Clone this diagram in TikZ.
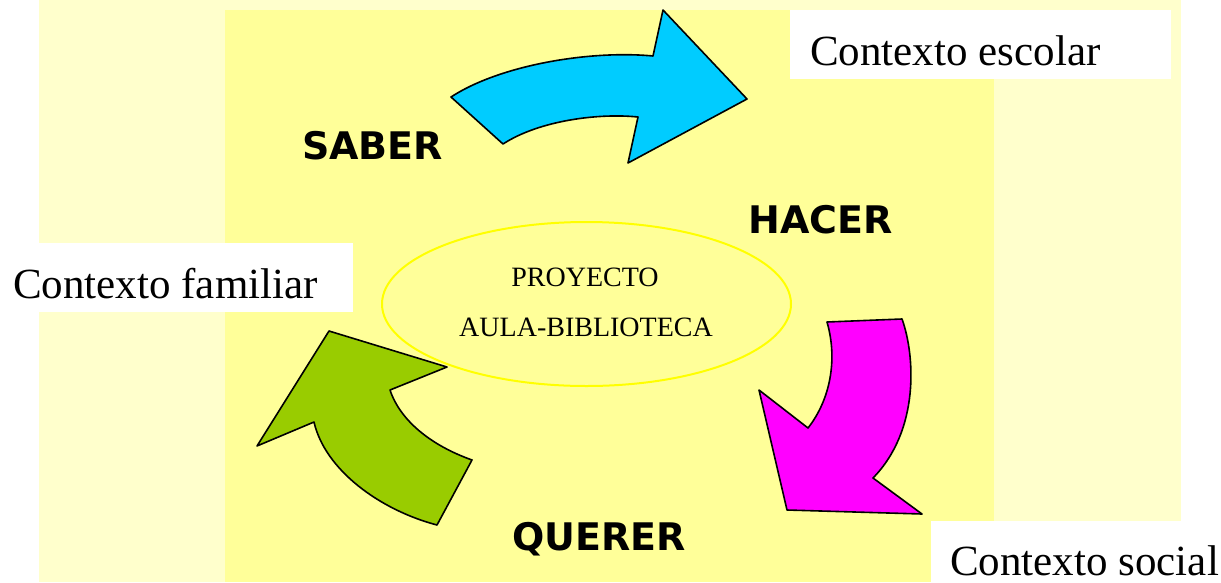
\documentclass[tikz,border=0pt]{standalone}
\usepackage{fontspec}
\setmainfont{Liberation Serif}
\newfontfamily\verbofont{DejaVu Sans}
\usetikzlibrary{shapes.geometric}
\definecolor{amarilloclaro}{HTML}{FFFFCC}
\definecolor{amarillo}{HTML}{FFFF99}
\definecolor{amarillovivo}{HTML}{FFFF00}
\definecolor{celeste}{HTML}{00CCFF}
\definecolor{fucsia}{HTML}{FF00FF}
\definecolor{verdelima}{HTML}{99CC00}
\begin{document}
\begin{tikzpicture}[x=1pt,y=-1pt, line join=round, line cap=round,
	ctx/.style={font=\fontsize{43}{43}\selectfont, inner sep=0pt, anchor=base west},
	verbo/.style={font=\verbofont\bfseries\fontsize{38}{38}\selectfont, inner sep=0pt, anchor=base west},
	titulo/.style={font=\fontsize{28}{28}\selectfont, inner sep=0pt, anchor=base},
	flecha/.style={draw=black, line width=1.6pt}]
	\useasboundingbox (0,0) rectangle (1221,582);
	\fill[amarilloclaro] (39,0) rectangle (1181,582);
	\fill[amarillo] (225,10) rectangle (994,582);
	\fill[white] (0,243) rectangle (353,312);
	\fill[white] (790,10) rectangle (1171,79);
	\fill[white] (931,521) rectangle (1221,582);
	\node[ellipse, draw=amarillovivo, line width=2pt, minimum width=409pt, minimum height=164pt] (proyecto) at (586.5,304) {};
	\node[titulo] (linea1) at (585,286) {PROYECTO};
	\node[titulo] (linea2) at (586,336) {AULA-BIBLIOTECA};
	\draw[flecha, fill=celeste] (451,97) -- (503,144) .. controls (540,120) and (600,113) .. (638,117) -- (628,163) -- (747,99) -- (663,10) -- (653,56) .. controls (590,50) and (500,65) .. (451,97) -- cycle;
	\draw[flecha, fill=fucsia] (827,322) -- (902,319) .. controls (915,355) and (920,430) .. (873,478) -- (922,514) -- (787,510) -- (759,390) -- (808,428) .. controls (830,400) and (838,360) .. (827,322) -- cycle;
	\draw[flecha, fill=verdelima] (437,525) -- (472,460) .. controls (430,445) and (400,420) .. (390,390) -- (447,367) -- (329,331) -- (257,446) -- (314,422) .. controls (325,470) and (380,510) .. (437,525) -- cycle;
	\node[verbo] (saber) at (302,159) {SABER};
	\node[verbo] (hacer) at (748,233) {HACER};
	\node[verbo] (querer) at (512,550) {QUERER};
	\node[ctx] (familiar) at (13,298) {Contexto familiar};
	\node[ctx] (escolar) at (810,65) {Contexto escolar};
	\node[ctx] (social) at (950,575) {Contexto social};
\end{tikzpicture}
\end{document}
